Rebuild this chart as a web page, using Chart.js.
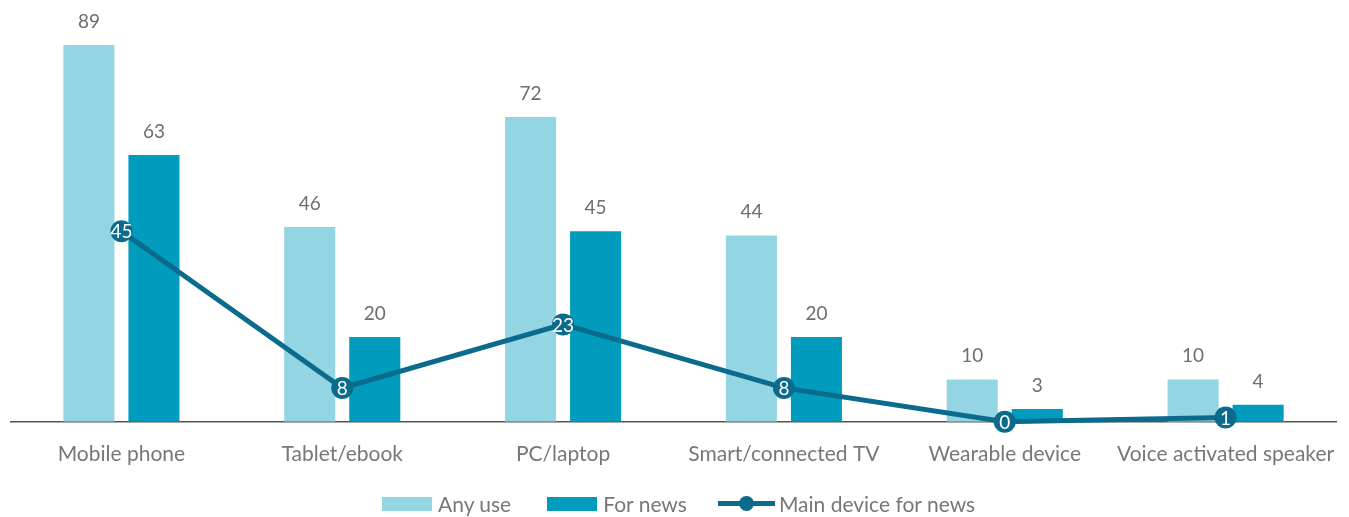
<!DOCTYPE html>
<html lang="en">
<head>
  <meta charset="UTF-8">
  <title>Devices used for news</title>
  <style>
    body {
      margin: 0;
      padding: 0;
      background: #ffffff;
      font-family: 'Lato', sans-serif;
    }
    .wrap {
      position: relative;
      width: 1349px;
      height: 517px;
    }
    #deviceChart {
      position: absolute;
      left: 0;
      top: 0;
    }
    .legend {
      position: absolute;
      left: 382px;
      top: 491px;
      display: flex;
      align-items: center;
      gap: 36px;
      font-size: 21px;
      color: #777777;
    }
    .legend .item {
      display: flex;
      align-items: center;
      gap: 6px;
    }
    .legend .item.main {
      margin-left: -5px;
      gap: 4px;
    }
    .swatch {
      width: 50px;
      height: 14px;
    }
    .line-key {
      position: relative;
      width: 57px;
      height: 15px;
    }
    .line-key::before {
      content: '';
      position: absolute;
      left: 0;
      right: 0;
      top: 5px;
      height: 5px;
      background: #0a6b8c;
    }
    .line-key::after {
      content: '';
      position: absolute;
      left: 21px;
      top: 0;
      width: 15px;
      height: 15px;
      border-radius: 50%;
      background: #0a6b8c;
    }
  </style>
</head>
<body>
  <div class="wrap">
    <canvas id="deviceChart" width="1349" height="517"></canvas>
    <div class="legend">
      <div class="item"><span class="swatch" style="background:#93d5e2"></span>Any use</div>
      <div class="item"><span class="swatch" style="background:#009bbd"></span>For news</div>
      <div class="item main"><span class="line-key"></span>Main device for news</div>
    </div>
  </div>

  <script src="https://cdn.jsdelivr.net/npm/chart.js"></script>
  <script>
    const devices = ['Mobile phone', 'Tablet/ebook', 'PC/laptop', 'Smart/connected TV', 'Wearable device', 'Voice activated speaker'];
    const anyUse = [89, 46, 72, 44, 10, 10];
    const forNews = [63, 20, 45, 20, 3, 4];
    const mainDevice = [45, 8, 23, 8, 0, 1];

    const LIGHT = '#93d5e2';
    const DARK = '#009bbd';
    const LINE = '#0a6b8c';

    // value labels: grey above bars, white inside the line markers
    const valueLabels = {
      id: 'valueLabels',
      afterDatasetsDraw(chart) {
        const ctx = chart.ctx;
        ctx.save();
        ctx.textAlign = 'center';
        chart.data.datasets.forEach((ds, i) => {
          const meta = chart.getDatasetMeta(i);
          meta.data.forEach((el, j) => {
            const v = ds.data[j];
            if (meta.type === 'bar') {
              ctx.font = '19px Lato, sans-serif';
              ctx.fillStyle = '#6e6e6e';
              ctx.textBaseline = 'alphabetic';
              ctx.fillText(v, el.x, el.y - 17);
            } else {
              ctx.font = '19px Lato, sans-serif';
              ctx.fillStyle = '#ffffff';
              ctx.textBaseline = 'middle';
              ctx.fillText(v, el.x, el.y + 1);
            }
          });
        });
        ctx.restore();
      }
    };

    new Chart(document.getElementById('deviceChart'), {
      type: 'bar',
      data: {
        labels: devices,
        datasets: [
          {
            label: 'Any use',
            data: anyUse,
            backgroundColor: LIGHT,
            categoryPercentage: 0.589,
            barPercentage: 0.785,
            order: 1
          },
          {
            label: 'For news',
            data: forNews,
            backgroundColor: DARK,
            categoryPercentage: 0.589,
            barPercentage: 0.785,
            order: 1
          },
          {
            type: 'line',
            label: 'Main device for news',
            data: mainDevice,
            borderColor: LINE,
            borderWidth: 5,
            backgroundColor: LINE,
            pointRadius: 11,
            pointBorderWidth: 0,
            pointBackgroundColor: LINE,
            tension: 0,
            clip: false,
            order: 0
          }
        ]
      },
      options: {
        responsive: false,
        animation: false,
        layout: {
          padding: { left: 11, right: 13, top: 2, bottom: 30 }
        },
        plugins: {
          legend: { display: false },
          tooltip: { enabled: false }
        },
        scales: {
          x: {
            grid: { display: false, drawTicks: false },
            border: { display: true, color: '#555555', width: 1.5 },
            ticks: {
              color: '#777777',
              font: { family: 'Lato', size: 21 },
              padding: 20,
              maxRotation: 0,
              autoSkip: false
            },
            // long end labels may overhang the plot edge
            afterFit(scale) {
              scale.paddingLeft = 0;
              scale.paddingRight = 0;
            }
          },
          y: {
            display: false,
            min: 0,
            max: 97
          }
        }
      },
      plugins: [valueLabels]
    });
  </script>
</body>
</html>
